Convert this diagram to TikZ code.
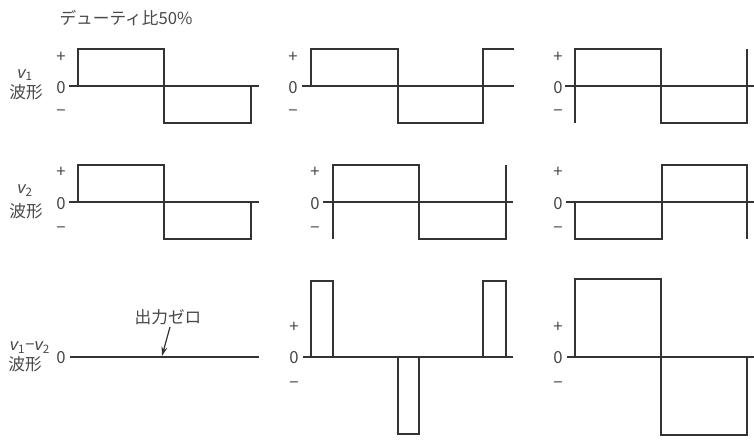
\documentclass[tikz,border=0pt]{standalone}
\usepackage{fontspec}
\setmainfont{Noto Sans CJK JP}
\newfontfamily\lat{Liberation Sans}
\usetikzlibrary{arrows.meta}
\definecolor{linec}{HTML}{333333}
\definecolor{textc}{HTML}{484848}
\newcommand\vsym[1]{{\lat\itshape v}\textsubscript{#1}}
\begin{document}
\begin{tikzpicture}[x=0.75pt,y=-0.75pt,
  wave/.style={draw=linec,line width=1.5pt,line join=miter},
  axis/.style={draw=linec,line width=1pt},
  lbl/.style={text=textc,inner sep=0pt,font=\fontsize{12.5}{14}\selectfont},
  arr/.style={draw=linec,line width=0.9pt,-{Stealth[length=7pt,width=4.5pt]}}]
\fill[white] (0,0) rectangle (754,444);
\useasboundingbox (0,0) rectangle (754,444);

% ---- left labels ----
\node[lbl] (title) at (126,18) {デューティ比50\%};
\node[lbl] (v1lab) at (25,75) {\vsym{1}};
\node[lbl] (w1lab) at (26,92) {波形};
\node[lbl] (v2lab) at (25,191) {\vsym{2}};
\node[lbl] (w2lab) at (26,211) {波形};
\node[lbl] (v3lab) at (30,348) {\vsym{1}−\vsym{2}};
\node[lbl] (w3lab) at (25,364) {波形};

% ---- axis labels, column 1 ----
\node[lbl] (p11) at (61,57) {+};
\node[lbl] (z11) at (61,88) {0};
\node[lbl] (m11) at (61,113) {−};
\node[lbl] (p21) at (61,172) {+};
\node[lbl] (z21) at (61,204) {0};
\node[lbl] (m21) at (61,230) {−};
\node[lbl] (z31) at (61,358) {0};

% ---- axis labels, column 2 ----
\node[lbl] (p12) at (293,57) {+};
\node[lbl] (z12) at (293,88) {0};
\node[lbl] (m12) at (293,113) {−};
\node[lbl] (p22) at (315,172) {+};
\node[lbl] (z22) at (315,204) {0};
\node[lbl] (m22) at (315,230) {−};
\node[lbl] (p32) at (294,327) {+};
\node[lbl] (z32) at (294,358) {0};
\node[lbl] (m32) at (294,385) {−};

% ---- axis labels, column 3 ----
\node[lbl] (p13) at (558,57) {+};
\node[lbl] (z13) at (558,88) {0};
\node[lbl] (m13) at (558,113) {−};
\node[lbl] (p23) at (558,172) {+};
\node[lbl] (z23) at (558,204) {0};
\node[lbl] (m23) at (558,230) {−};
\node[lbl] (p33) at (558,327) {+};
\node[lbl] (z33) at (558,358) {0};
\node[lbl] (m33) at (558,385) {−};

% ---- column 1 ----
\draw[axis] (69,86) -- (259,86);
\draw[wave] (78,86) -- (78,49) -- (164,49) -- (164,123) -- (251,123) -- (251,86);
\draw[axis] (69,202) -- (259,202);
\draw[wave] (78,202) -- (78,165) -- (164,165) -- (164,239) -- (251,239) -- (251,202);
\draw[axis] (70,357) -- (259,357);
\node[lbl] (zerolab) at (168,317) {出力ゼロ};
\coordinate (zeropt) at (162,356);
\draw[arr] ([xshift=1.5]zerolab.south) ++(0,2) -- (zeropt);

% ---- column 2 ----
\draw[axis] (302,86) -- (514,86);
\draw[wave] (311,86) -- (311,49) -- (398,49) -- (398,123) -- (483,123) -- (483,49) -- (514,49);
\draw[axis] (323,202) -- (513,202);
\draw[wave] (333,239) -- (333,165) -- (419,165) -- (419,239) -- (506,239) -- (506,165);
\draw[axis] (303,357) -- (513,357);
\draw[wave] (311,357) -- (311,281) -- (333,281) -- (333,357);
\draw[wave] (398,357) -- (398,434) -- (419,434) -- (419,357);
\draw[wave] (483,357) -- (483,281) -- (506,281) -- (506,357);

% ---- column 3 ----
\draw[axis] (565,86) -- (754,86);
\draw[wave] (575,123) -- (575,49) -- (661,49) -- (661,123) -- (747,123) -- (747,49);
\draw[axis] (566,202) -- (754,202);
\draw[wave] (575,202) -- (575,239) -- (662,239) -- (662,165) -- (747,165) -- (747,239);
\draw[axis] (567,357) -- (754,357);
\draw[wave] (575,357) -- (575,279) -- (661,279) -- (661,435) -- (747,435) -- (747,357);
\end{tikzpicture}
\end{document}
